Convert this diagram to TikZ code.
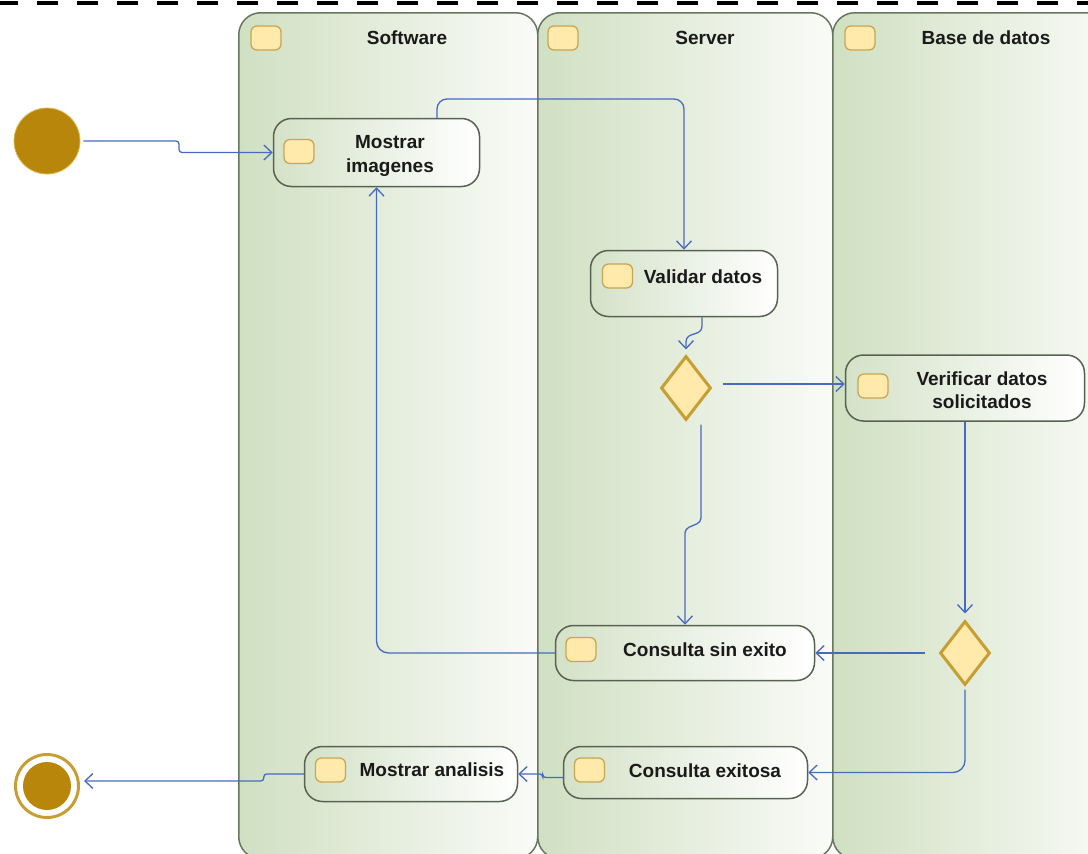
\documentclass[tikz,border=0pt]{standalone}
\usepackage{fontspec}
\setmainfont{Liberation Sans}
\usetikzlibrary{shapes.geometric,arrows.meta}

\definecolor{laneline}{RGB}{104,118,96}
\definecolor{lanegreen}{RGB}{208,224,194}
\definecolor{lanewhite}{RGB}{250,251,248}
\definecolor{boxline}{RGB}{88,98,82}
\definecolor{boxgreen}{RGB}{212,226,200}
\definecolor{flowblue}{RGB}{70,106,192}
\definecolor{gold}{RGB}{184,134,11}
\definecolor{goldlight}{RGB}{222,186,80}
\definecolor{goldline}{RGB}{198,158,52}
\definecolor{iconfill}{RGB}{255,234,172}
\definecolor{iconline}{RGB}{200,166,82}
\definecolor{ink}{RGB}{26,26,26}

\begin{document}
\begin{tikzpicture}[x=1pt,y=-1pt,
  lane/.style={draw=laneline, line width=1.5pt, rounded corners=22pt,
    left color=lanegreen, right color=lanewhite, inner sep=0pt,
    anchor=north west},
  act/.style={draw=boxline, line width=1.5pt, rounded corners=18pt,
    left color=boxgreen, right color=white, inner sep=0pt},
  icon/.style={draw=iconline, fill=iconfill, line width=1.3pt,
    rounded corners=6pt, minimum width=30pt, minimum height=24pt,
    inner sep=0pt},
  lbl/.style={text=ink, inner sep=0pt, align=center,
    font=\bfseries\fontsize{19}{23.5}\selectfont},
  decision/.style={diamond, draw=goldline, fill=iconfill, line width=3pt,
    minimum width=50pt, minimum height=64pt, inner sep=0pt},
  flow/.style={draw=flowblue, line width=1.3pt,
    -{Straight Barb[length=8pt,width=15pt]}}
]
\useasboundingbox (0,0) rectangle (1088,854);

% top border
\draw[line width=3.5pt, dash pattern=on 21pt off 19pt, dash phase=3pt]
  (0,3) -- (1088,3);

% swimlanes
\node[lane, minimum width=299pt, minimum height=846pt] (swlane) at (238,12) {};
\node[lane, minimum width=295pt, minimum height=846pt] (svlane) at (537,12) {};
\node[lane, minimum width=290pt, minimum height=846pt] (dblane) at (832,12) {};

\node[icon] (swicon) at (266,38) {};
\node[icon] (svicon) at (563,38) {};
\node[icon] (dbicon) at (860,38) {};
\node[lbl] (swtitle) at (407,38) {Software};
\node[lbl] (svtitle) at (705,38) {Server};
\node[lbl] (dbtitle) at (986,38) {Base de datos};

% start and end
\node[circle, fill=gold, draw=goldlight, line width=0.8pt,
  minimum size=66pt, inner sep=0pt] (start) at (47,141) {};
\node[circle, draw=goldline, fill=white, line width=3pt,
  minimum size=63pt, inner sep=0pt] (finish) at (47,786) {};
\node[circle, fill=gold, minimum size=48pt, inner sep=0pt] (finishdot) at (47,786) {};

% activities
\node[act, minimum width=206pt, minimum height=68pt] (mi) at (376.5,152.5) {};
\node[icon] (miicon) at (299,151.5) {};
\node[lbl] (mitext) at (390,156) {Mostrar\\imagenes};

\node[act, minimum width=187pt, minimum height=66pt] (vd) at (684,283.5) {};
\node[icon] (vdicon) at (617.5,276) {};
\node[lbl] (vdtext) at (703,277) {Validar datos};

\node[act, minimum width=239pt, minimum height=66pt] (vf) at (965,388) {};
\node[icon] (vficon) at (873,386) {};
\node[lbl] (vftext) at (982,390) {Verificar datos\\solicitados};

\node[act, minimum width=259pt, minimum height=55pt] (csx) at (685,653) {};
\node[icon] (csxicon) at (581,649.5) {};
\node[lbl] (csxtext) at (705,650) {Consulta sin exito};

\node[act, minimum width=244pt, minimum height=52pt] (cex) at (685.5,772.5) {};
\node[icon] (cexicon) at (589.5,770) {};
\node[lbl] (cextext) at (705,771) {Consulta exitosa};

\node[act, minimum width=213pt, minimum height=55pt] (ma) at (411,774) {};
\node[icon] (maicon) at (330.5,770) {};
\node[lbl] (matext) at (432,770) {Mostrar analisis};

% decisions
\node[decision] (d1) at (686,388) {};
\node[decision] (d2) at (965,653) {};

% control flow
\draw[flow, rounded corners=3pt] ([xshift=3pt]start.east) -- (179,141) -- (179,152.5) -- (mi.west);
\draw[flow, rounded corners=10pt] ([xshift=60.5pt]mi.north) -- (437,99) -- (684,99) -- (vd.north);
\draw[flow] ([xshift=18pt]vd.south) -- (702,326) .. controls (702,337) and (686,331) .. (686,342)
  -- ([yshift=5pt]d1.north);
\draw[flow] ([xshift=10pt,yshift=4pt]d1.east) -- ([yshift=4pt]vf.west);
\draw[flow, rounded corners=4pt] ([xshift=15pt,yshift=-3pt]d1.south) -- (701,522) -- (685,529) -- (csx.north);
\draw[flow, shorten >=6pt] (vf.south) -- (d2.north);
\draw[flow] ([xshift=-14pt]d2.west) -- (csx.east);
\draw[flow, rounded corners=12pt, shorten <=3pt] (d2.south) |- (cex.east);
\draw[flow, rounded corners=12pt] (csx.west) -| (mi.south);
\draw[flow, rounded corners=3pt] ([yshift=-5pt]cex.west) -- ++(-20pt,0pt) |- (ma.east);
\draw[flow, rounded corners=3pt] (ma.west) -- ++(-40pt,0pt) |- ([xshift=4pt,yshift=5pt]finish.east);
\end{tikzpicture}
\end{document}
